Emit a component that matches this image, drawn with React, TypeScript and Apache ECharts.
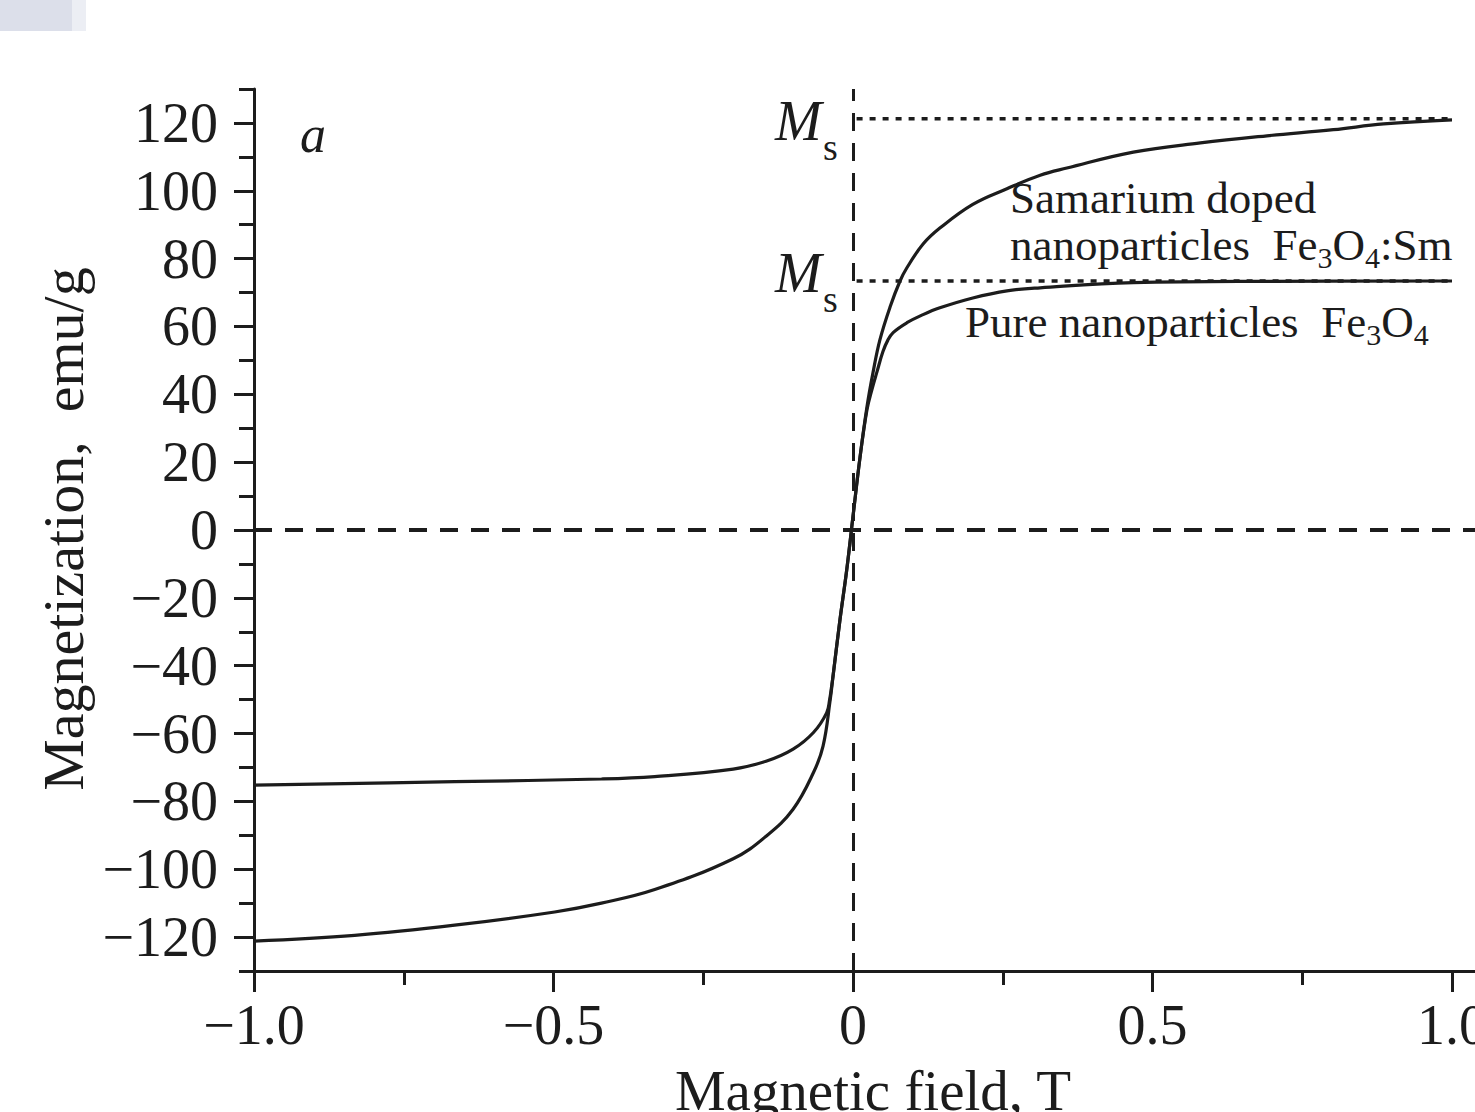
import React, { useEffect, useRef } from 'react';
import * as echarts from 'echarts';

// Samarium doped nanoparticles Fe3O4:Sm
const fieldSm = [-1.0, -0.832, -0.665, -0.498, -0.42, -0.331, -0.2, -0.144, -0.1, -0.066, -0.05, -0.038, -0.033, -0.0217, -0.0105, 0.0, 0.0117, 0.0234, 0.0334, 0.045, 0.062, 0.0785, 0.09, 0.117, 0.145, 0.2, 0.257, 0.3125, 0.357, 0.468, 0.58, 0.691, 0.802, 0.886, 1.0];
const magSm = [-121.2, -119.5, -116.5, -112.6, -110.0, -106.0, -96.9, -90.1, -82.3, -71.5, -63.7, -50.0, -42.6, -26.4, -11.8, 4.0, 21.4, 36.4, 46.4, 56.1, 65.8, 73.4, 77.3, 84.3, 89.0, 96.0, 100.6, 104.6, 106.7, 111.4, 114.1, 116.2, 118.0, 119.7, 120.9];

// Pure nanoparticles Fe3O4
const fieldPure = [-1.0, -0.665, -0.42, -0.331, -0.2, -0.144, -0.1, -0.066, -0.044, -0.039, -0.0356, -0.033, -0.0217, -0.0105, 0.0, 0.0117, 0.0234, 0.0317, 0.04, 0.05, 0.058, 0.067, 0.09, 0.117, 0.145, 0.2, 0.257, 0.3125, 0.468, 0.7, 1.0];
const magPure = [-75.2, -74.2, -73.4, -72.7, -70.5, -68.1, -64.6, -59.7, -53.9, -50.0, -46.0, -42.6, -26.4, -11.8, 4.0, 21.4, 35.5, 41.5, 46.6, 52.6, 55.9, 58.2, 61.1, 63.5, 65.5, 68.4, 70.5, 71.4, 72.9, 73.3, 73.4];

// Saturation magnetisation levels (dotted lines)
const msLevels = [121.2, 73.4];
const msField = [0.006, 1.0];

const xTickStep = 0.5;
const yMajorStep = 20;
const yMinorStep = 10;

const FONT = '"Liberation Serif", "Times New Roman", serif';
const INK = '#1c1c1c';

const minus = (s: string) => s.replace('-', '\u2212');

export default function App() {
  const ref = useRef<HTMLDivElement>(null);

  useEffect(() => {
    const chart = echarts.init(ref.current!, null, { renderer: 'svg' });

    const smData = fieldSm.map((x, i) => [x, magSm[i]]);
    const pureData = fieldPure.map((x, i) => [x, magPure[i]]);

    const curveStyle = { color: INK, width: 3.2 };
    const tickLine = { color: INK, width: 3 };

    const subRich = {
      n: { fontFamily: FONT, fontSize: 45, lineHeight: 50, verticalAlign: 'top', fill: INK, color: INK },
      sub: { fontFamily: FONT, fontSize: 30, lineHeight: 30, padding: [27, 0, 0, 0], verticalAlign: 'bottom', fill: INK, color: INK },
    };

    const option: any = {
      animation: false,
      backgroundColor: '#ffffff',
      grid: [
        { left: 254, top: 89, width: 1497.5, height: 882 },
        { left: 254, top: 122.9, width: 1497.5, height: 814.2 },
      ],
      xAxis: [
        {
          gridIndex: 0,
          type: 'value',
          min: -1,
          max: 1.5,
          interval: xTickStep,
          axisLine: { onZero: false, lineStyle: tickLine },
          axisTick: { length: 21, lineStyle: tickLine },
          minorTick: { show: true, splitNumber: 2, length: 14, lineStyle: tickLine },
          splitLine: { show: false },
          minorSplitLine: { show: false },
          axisLabel: {
            margin: 26,
            fontSize: 56,
            fontFamily: FONT,
            color: INK,
            formatter: (v: number) => minus(v === 0 ? '0' : v.toFixed(1)),
          },
        },
        { gridIndex: 1, type: 'value', min: -1, max: 1.5, show: false },
      ],
      yAxis: [
        {
          gridIndex: 0,
          type: 'value',
          min: -130,
          max: 130,
          interval: yMinorStep,
          axisLine: { onZero: false, lineStyle: tickLine },
          axisTick: { length: 15, lineStyle: tickLine },
          axisLabel: { show: false },
          splitLine: { show: false },
        },
        {
          gridIndex: 1,
          type: 'value',
          min: -120,
          max: 120,
          interval: yMajorStep,
          axisLine: { show: false, onZero: false },
          axisTick: { length: 20, lineStyle: tickLine },
          splitLine: { show: false },
          axisLabel: {
            margin: 36,
            fontSize: 56,
            fontFamily: FONT,
            color: INK,
            formatter: (v: number) => minus(String(v)),
          },
        },
      ],
      series: [
        {
          name: 'Fe3O4:Sm',
          type: 'line',
          xAxisIndex: 0,
          yAxisIndex: 0,
          data: smData,
          showSymbol: false,
          smooth: 0.4,
          lineStyle: curveStyle,
          itemStyle: { color: INK },
          markLine: {
            silent: true,
            symbol: ['none', 'none'],
            label: { show: false },
            lineStyle: { color: INK, width: 3.5, type: [18, 13] },
            data: [
              { yAxis: 0, lineStyle: { width: 4, type: [18, 13], color: INK } },
              { xAxis: 0, lineStyle: { width: 3, type: [18, 12], color: INK } },
            ],
          },
        },
        {
          name: 'Fe3O4',
          type: 'line',
          xAxisIndex: 0,
          yAxisIndex: 0,
          data: pureData,
          showSymbol: false,
          smooth: 0.4,
          lineStyle: curveStyle,
          itemStyle: { color: INK },
        },
        ...msLevels.map((lv, i) => ({
          name: 'Ms' + i,
          type: 'line',
          xAxisIndex: 0,
          yAxisIndex: 0,
          data: msField.map((x) => [x, lv]),
          showSymbol: false,
          lineStyle: { color: INK, width: 3.5, type: [6, 7] },
          itemStyle: { color: INK },
          z: 1,
        })),
      ],
      graphic: [
        { type: 'rect', silent: true, shape: { x: 0, y: 0, width: 72, height: 31 }, style: { fill: '#dcdfea' } },
        { type: 'rect', silent: true, shape: { x: 72, y: 0, width: 14, height: 31 }, style: { fill: '#eceef4' } },
        {
          type: 'text',
          x: 63,
          y: 529,
          rotation: Math.PI / 2,
          style: { text: 'Magnetization,  emu/g', fontFamily: FONT, fontSize: 58, fill: INK, align: 'center', verticalAlign: 'middle' },
        },
        {
          type: 'text',
          x: 873,
          y: 1090,
          style: { text: 'Magnetic field, T', fontFamily: FONT, fontSize: 57, fill: INK, align: 'center', verticalAlign: 'middle' },
        },
        {
          type: 'text',
          x: 300,
          y: 134,
          style: { text: 'a', fontFamily: FONT, fontStyle: 'italic', fontSize: 52, fill: INK, align: 'left', verticalAlign: 'middle' },
        },
        { type: 'text', x: 775, y: 121, style: { text: 'M', fontFamily: FONT, fontStyle: 'italic', fontSize: 56, fill: INK, align: 'left', verticalAlign: 'middle' } },
        { type: 'text', x: 823, y: 147, style: { text: 's', fontFamily: FONT, fontSize: 38, fill: INK, align: 'left', verticalAlign: 'middle' } },
        { type: 'text', x: 775, y: 273, style: { text: 'M', fontFamily: FONT, fontStyle: 'italic', fontSize: 56, fill: INK, align: 'left', verticalAlign: 'middle' } },
        { type: 'text', x: 823, y: 299, style: { text: 's', fontFamily: FONT, fontSize: 38, fill: INK, align: 'left', verticalAlign: 'middle' } },
        {
          type: 'text',
          x: 1010,
          y: 173,
          style: { text: 'Samarium doped', fontFamily: FONT, fontSize: 45, lineHeight: 50, fill: INK, align: 'left', verticalAlign: 'top' },
        },
        {
          type: 'text',
          x: 1010,
          y: 222,
          style: {
            text: '{n|nanoparticles  Fe}{sub|3}{n|O}{sub|4}{n|:Sm}',
            fontFamily: FONT,
            fontSize: 45,
            fill: INK,
            align: 'left',
            verticalAlign: 'top',
            rich: subRich,
          },
        },
        {
          type: 'text',
          x: 965,
          y: 299,
          style: {
            text: '{n|Pure nanoparticles  Fe}{sub|3}{n|O}{sub|4}',
            fontFamily: FONT,
            fontSize: 45,
            fill: INK,
            align: 'left',
            verticalAlign: 'top',
            rich: subRich,
          },
        },
      ],
    };

    chart.setOption(option);
    return () => chart.dispose();
  }, []);

  return (
    <div style={{ position: 'absolute', left: 0, top: 0, width: 1475, height: 1112, overflow: 'hidden', background: '#ffffff' }}>
      <div ref={ref} style={{ width: 1800, height: 1112 }} />
    </div>
  );
}
